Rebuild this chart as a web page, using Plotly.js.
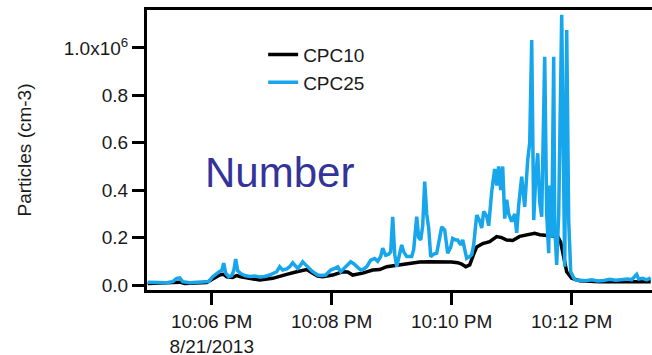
<!DOCTYPE html>
<html>
<head>
<meta charset="utf-8">
<script src="https://cdn.plot.ly/plotly-3.0.1.min.js"></script>
<style>html,body{margin:0;padding:0;background:#fff;}#chart{width:652px;height:355px;}</style>
</head>
<body>
<div id="chart"></div>
<script>
// Values in units of 10^6 particles per cm3; times in seconds after 10:00 PM on 8/21/2013
const SCALE = 1e6;
const DAY = "2013-08-21";

const t25 = [296,301,308,315,321,325,328,331,338,346,353,357,361,365,368,370,372,374,377,380,382,384,386,389,393,398,403,408,413,418,422,425,428,431,435,438,441,444,446,449,451,454,456,461,466,470,474,479,483,486,489,492,495,499,502,505,509,512,515,519,523,526,529,531,534,537,539,541,543,545,547,550,552,555,560,562,565,567,569,571,573,575,577,579,582,585,588,590,593,596,599,601,604,606,609,611,613,615,618,620,622,625,628,630,632,635,637,640,643,645,647,649,651,653,655,657,660,663,665,667,670,673,676,678,680,682,684,686,688,690,693,695,697,698,700,702,703,705,707,710,713,715,717,719,722,724,728,734,740,746,752,758,764,770,776,780,783,785,787,791,795,799];
const v25 = [0.012,0.011,0.013,0.010,0.014,0.028,0.030,0.014,0.010,0.011,0.012,0.015,0.035,0.050,0.058,0.060,0.092,0.050,0.035,0.040,0.060,0.110,0.060,0.048,0.040,0.036,0.038,0.034,0.036,0.042,0.050,0.056,0.077,0.063,0.068,0.077,0.094,0.080,0.070,0.085,0.098,0.085,0.077,0.056,0.042,0.040,0.042,0.063,0.070,0.077,0.056,0.070,0.084,0.098,0.090,0.077,0.063,0.068,0.077,0.105,0.112,0.100,0.120,0.155,0.125,0.130,0.140,0.288,0.130,0.077,0.120,0.169,0.140,0.120,0.120,0.150,0.288,0.200,0.190,0.250,0.436,0.300,0.240,0.120,0.130,0.134,0.200,0.245,0.232,0.134,0.160,0.197,0.190,0.190,0.170,0.190,0.150,0.113,0.120,0.127,0.170,0.295,0.270,0.240,0.310,0.290,0.250,0.394,0.490,0.420,0.500,0.400,0.500,0.280,0.360,0.300,0.267,0.300,0.220,0.337,0.457,0.330,0.527,0.600,1.034,0.274,0.450,0.556,0.350,0.288,0.963,0.300,0.134,0.420,0.200,0.963,0.250,0.085,0.300,1.140,0.077,1.076,0.270,0.056,0.030,0.021,0.020,0.018,0.022,0.017,0.019,0.024,0.020,0.021,0.025,0.022,0.035,0.045,0.025,0.028,0.022,0.030];

const t10 = [296,308,323,328,333,348,355,361,368,372,375,381,385,389,398,408,421,428,435,445,451,455,461,466,471,481,491,496,501,506,511,521,528,535,545,556,568,578,590,600,606,610,614,618,622,625,631,638,645,650,655,661,668,673,678,683,688,695,701,706,709,712,715,720,728,748,768,788,799];
const v10 = [0.006,0.007,0.008,0.012,0.006,0.007,0.010,0.025,0.042,0.045,0.035,0.032,0.040,0.035,0.028,0.021,0.028,0.035,0.045,0.056,0.062,0.065,0.050,0.038,0.035,0.042,0.056,0.055,0.042,0.045,0.050,0.063,0.065,0.077,0.084,0.090,0.097,0.098,0.098,0.097,0.094,0.088,0.077,0.085,0.130,0.160,0.175,0.183,0.204,0.200,0.190,0.188,0.205,0.210,0.215,0.218,0.212,0.210,0.205,0.205,0.180,0.120,0.056,0.028,0.018,0.014,0.013,0.015,0.014];

const xTickSeconds = [360,480,600,720];
const xTickText = ["10:06 PM<br>8/21/2013","10:08 PM","10:10 PM","10:12 PM"];
const yTickVals = [0,0.2,0.4,0.6,0.8,1.0];
const yTickText = ["0.0","0.2","0.4","0.6","0.8","1.0x10<sup>6</sup>"];

function pad(n){ return (n<10?"0":"")+n; }
function toDate(s){
  const m = Math.floor(s/60), sec = s - m*60;
  const whole = Math.floor(sec), frac = sec - whole;
  let str = DAY+" 22:"+pad(m)+":"+pad(whole);
  if (frac > 0) str += "." + Math.round(frac*1000).toString().padStart(3,"0");
  return str;
}

const FONT = "Liberation Sans, Arial, Helvetica, sans-serif";

const traces = [
  {x: t10.map(toDate), y: v10.map(v=>v*SCALE), name: "CPC10", type: "scatter", mode: "lines",
   line: {color: "#000000", width: 3.5}},
  {x: t25.map(toDate), y: v25.map(v=>v*SCALE), name: "CPC25", type: "scatter", mode: "lines",
   line: {color: "#17a6ec", width: 3.5}}
];

const layout = {
  width: 652, height: 355,
  margin: {l: 147, r: 0, t: 10, b: 65},
  paper_bgcolor: "#ffffff", plot_bgcolor: "#ffffff",
  font: {family: FONT, size: 19, color: "#1a1a1a"},
  showlegend: true,
  legend: {x: 0.230, y: 0.908, xanchor: "left", yanchor: "top", traceorder: "normal",
           bgcolor: "rgba(0,0,0,0)", font: {family: FONT, size: 19, color: "#1a1a1a"}},
  xaxis: {
    type: "date",
    range: [toDate(295.3), toDate(800.3)],
    tickvals: xTickSeconds.map(toDate), ticktext: xTickText,
    showline: true, linewidth: 3, linecolor: "#000", mirror: true,
    ticks: "outside", ticklen: 12, tickwidth: 3, tickcolor: "#000",
    showgrid: false, zeroline: false,
    tickfont: {family: FONT, size: 19, color: "#1a1a1a"}
  },
  yaxis: {
    range: [-0.0211*SCALE, 1.1603*SCALE],
    tickvals: yTickVals.map(v=>v*SCALE), ticktext: yTickText,
    showline: true, linewidth: 3, linecolor: "#000",
    ticks: "outside", ticklen: 12, tickwidth: 3, tickcolor: "#000",
    showgrid: false, zeroline: false,
    tickfont: {family: FONT, size: 19, color: "#1a1a1a"},
    title: {text: "Particles (cm-3)", standoff: 28, font: {family: FONT, size: 19, color: "#1a1a1a"}}
  },
  annotations: [{
    text: "Number", xref: "paper", yref: "paper", x: 0.263, y: 0.421,
    xanchor: "center", yanchor: "middle", showarrow: false,
    font: {family: FONT, size: 42, color: "#33339a"}
  }]
};

Plotly.newPlot("chart", traces, layout, {displayModeBar: false, staticPlot: true});
</script>
</body>
</html>
